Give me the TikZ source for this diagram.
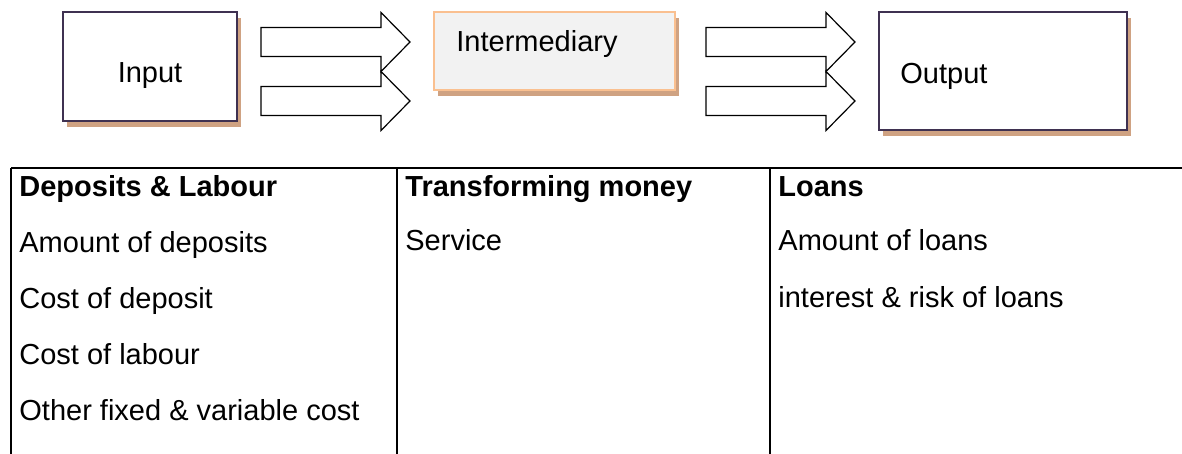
\documentclass[tikz,border=0pt]{standalone}
\usepackage{fontspec}
\setmainfont{Liberation Sans}
\usetikzlibrary{shadows}
\definecolor{boxline}{HTML}{3F3151}
\definecolor{shade}{HTML}{CFA282}
\definecolor{interline}{HTML}{FAC090}
\definecolor{interfill}{HTML}{F2F2F2}
\newcommand\fatarrow[2]{\draw[fatarr] (#1,#2-14.5) -- ++(120,0) -- ++(0,-15) -- ++(29,29.5) -- ++(-29,29.5) -- ++(0,-15) -- ++(-120,0) -- cycle;}
\begin{document}
\begin{tikzpicture}[x=0.5pt,y=-0.5pt,font=\fontsize{14.5}{17}\selectfont,
  box/.style={draw=boxline,line width=1pt,fill=white,inner sep=0pt,
    drop shadow={fill=shade,opacity=1,shadow xshift=2pt,shadow yshift=-3pt}},
  interbox/.style={box,draw=interline,fill=interfill},
  fatarr/.style={draw=black,line width=0.6pt,fill=white,line join=miter},
  txt/.style={inner sep=0pt,anchor=base west},
  grid/.style={line width=1pt}]
\useasboundingbox (0,0) rectangle (1182,454);

\node[box,minimum width=87pt,minimum height=54.5pt] (input) at (150,66.5) {};
\node[txt,anchor=base] (inputtxt) at (150,83) {Input};
\node[interbox,minimum width=120.5pt,minimum height=39pt] (inter) at (554.5,51) {};
\node[txt] (intertxt) at (456,52) {Intermediary};
\node[box,minimum width=124pt,minimum height=59pt] (output) at (1003,71) {};
\node[txt] (outputtxt) at (900,84) {Output};

\fatarrow{261}{42}
\fatarrow{261}{101}
\fatarrow{706}{42}
\fatarrow{706}{101}

\draw[grid] (11,168)--(1182,168);
\draw[grid] (11,168)--(11,454);
\draw[grid] (397,168)--(397,454);
\draw[grid] (770,168)--(770,454);

\node[txt] (inhead) at (19,197) {\bfseries Deposits \& Labour};
\node[txt] (in1) at (19,252) {Amount of deposits};
\node[txt] (in2) at (19,308) {Cost of deposit};
\node[txt] (in3) at (19,364) {Cost of labour};
\node[txt] (in4) at (19,420) {Other fixed \& variable cost};

\node[txt] (midhead) at (405,197) {\bfseries Transforming money};
\node[txt] (mid1) at (405,250) {Service};

\node[txt] (outhead) at (778,197) {\bfseries Loans};
\node[txt] (out1) at (778,250) {Amount of loans};
\node[txt] (out2) at (778,307) {interest \& risk of loans};
\end{tikzpicture}
\end{document}
